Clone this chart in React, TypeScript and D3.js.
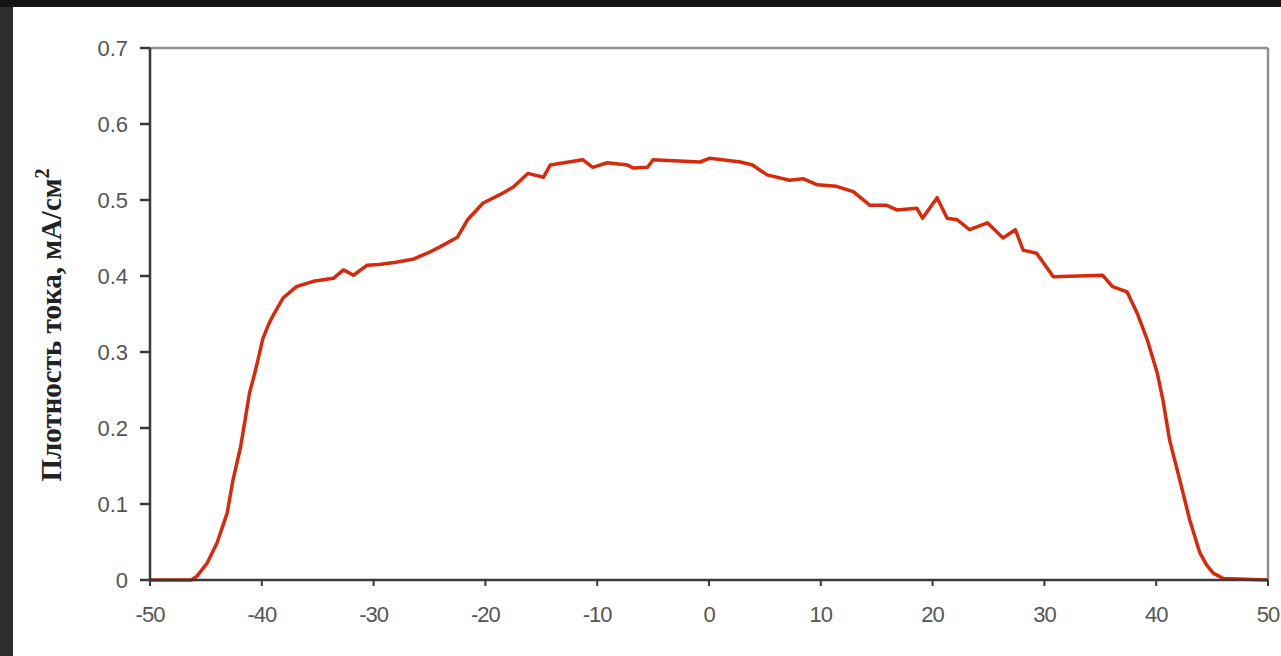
import React from "react";
import * as d3 from "d3";

const xValues = [-50, -46.3, -45.8, -44.9, -44.0, -43.1, -42.6, -41.9, -41.5, -41.1, -40.7, -40.4, -39.9, -39.4, -39.0, -38.1, -36.9, -35.4, -33.6, -32.7, -31.8, -30.6, -29.5, -28.0, -26.5, -25.2, -24.1, -22.5, -21.6, -20.2, -18.7, -17.5, -16.2, -14.8, -14.2, -11.3, -10.4, -9.1, -7.3, -6.8, -5.5, -5.0, -0.8, 0.1, 2.8, 3.9, 5.2, 7.2, 8.4, 9.7, 11.4, 12.9, 14.4, 15.9, 16.8, 18.6, 19.1, 20.4, 21.3, 22.2, 23.3, 24.9, 26.3, 27.4, 28.1, 29.3, 30.8, 35.2, 36.1, 37.4, 38.3, 39.2, 40.1, 40.6, 41.2, 42.1, 43.0, 43.9, 44.5, 45.1, 46.0, 50];
const yValues = [0, 0, 0.005, 0.022, 0.049, 0.088, 0.13, 0.175, 0.21, 0.246, 0.268, 0.286, 0.318, 0.336, 0.348, 0.371, 0.386, 0.393, 0.397, 0.408, 0.401, 0.414, 0.415, 0.418, 0.422, 0.43, 0.438, 0.451, 0.474, 0.496, 0.507, 0.517, 0.535, 0.53, 0.546, 0.553, 0.543, 0.549, 0.546, 0.542, 0.543, 0.553, 0.55, 0.555, 0.55, 0.546, 0.533, 0.526, 0.528, 0.52, 0.518, 0.511, 0.493, 0.493, 0.487, 0.489, 0.476, 0.503, 0.476, 0.474, 0.461, 0.47, 0.45, 0.461, 0.434, 0.43, 0.399, 0.401, 0.386, 0.379, 0.351, 0.316, 0.272, 0.237, 0.184, 0.132, 0.079, 0.036, 0.02, 0.009, 0.002, 0];

const xTicks = [-50, -40, -30, -20, -10, 0, 10, 20, 30, 40, 50];
const yTicks = [0, 0.1, 0.2, 0.3, 0.4, 0.5, 0.6, 0.7];
const yLabel = "Плотность тока, мА/см";

export default function App() {
  const W = 1281, H = 656;
  const x = d3.scaleLinear().domain([-50, 50]).range([150, 1268]);
  const y = d3.scaleLinear().domain([0, 0.7]).range([580, 48]);
  const pts: [number, number][] = xValues.map((v, i) => [v, yValues[i]]);
  const line = d3.line<[number, number]>().x(d => x(d[0])).y(d => y(d[1]));
  const tickFont = "'Liberation Sans', Arial, sans-serif";
  return (
    <svg width={W} height={H} style={{ position: "absolute", left: 0, top: 0 }}>
      <rect x={0} y={0} width={W} height={H} fill="#2e2e2e" />
      <rect x={0} y={0} width={W} height={7} fill="#151515" />
      <rect x={13} y={7} width={W - 13} height={H - 7} fill="#ffffff" />
      {/* frame top/right */}
      <line x1={x(-50)} x2={x(50)} y1={y(0.7)} y2={y(0.7)} stroke="#8f8f8f" strokeWidth={2.5} />
      <line x1={x(50)} x2={x(50)} y1={y(0.7)} y2={y(0)} stroke="#8f8f8f" strokeWidth={2.5} />
      {/* curve */}
      <path d={line(pts) || ""} fill="none" stroke="#d9290b" strokeWidth={3.5} strokeLinejoin="round" />
      {/* axes */}
      <line x1={x(-50)} x2={x(50)} y1={y(0)} y2={y(0)} stroke="#3a3a3a" strokeWidth={2.5} />
      <line x1={x(-50)} x2={x(-50)} y1={y(0.7)} y2={y(0)} stroke="#3a3a3a" strokeWidth={2.5} />
      {yTicks.map(t => (
        <g key={"y" + t}>
          <line x1={x(-50) - 10} x2={x(-50)} y1={y(t)} y2={y(t)} stroke="#3a3a3a" strokeWidth={2.5} />
          <text x={x(-50) - 22} y={y(t)} dy="0.35em" textAnchor="end" fontFamily={tickFont} fontSize={22} fill="#555">
            {t === 0 ? "0" : t.toFixed(1)}
          </text>
        </g>
      ))}
      {xTicks.map(t => (
        <g key={"x" + t}>
          <line x1={x(t)} x2={x(t)} y1={y(0)} y2={y(0) + 6} stroke="#3a3a3a" strokeWidth={2} />
          <text x={x(t)} y={614} dy="0.35em" textAnchor="middle" fontFamily={tickFont} fontSize={22} fill="#555" letterSpacing={-1}>
            {String(t)}
          </text>
        </g>
      ))}
      <text transform="translate(61,325) rotate(-90)" textAnchor="middle" fontFamily="'Liberation Serif', 'Times New Roman', serif" fontWeight="bold" fontSize={29} fill="#222">
        {yLabel}
        <tspan dy={-12} fontSize={20}>2</tspan>
      </text>
    </svg>
  );
}
